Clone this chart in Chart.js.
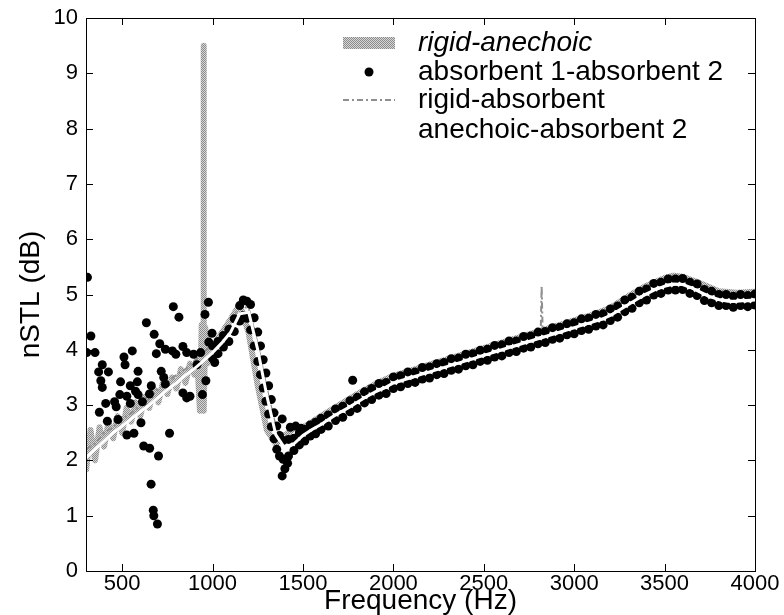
<!DOCTYPE html>
<html>
<head>
<meta charset="utf-8">
<script src="https://cdn.jsdelivr.net/npm/chart.js@4.4.0/dist/chart.umd.min.js"></script>
<style>
  body { margin: 0; background: #fff; }
</style>
</head>
<body>
<canvas id="myChart" width="784" height="615"></canvas>
<script>
// axis ticks
const xTicks = [500, 1000, 1500, 2000, 2500, 3000, 3500, 4000];
const yTicks = [0, 1, 2, 3, 4, 5, 6, 7, 8, 9, 10];

// common 50 Hz grid for the smooth curves
const lineFreq = [300,350,400,450,500,550,600,650,700,750,800,850,900,950,1000,
  1050,1100,1150,1200,1250,1300,1350,1400,1450,1500,1550,1600,1650,1700,1750,1800,1850,1900,1950,2000,
  2050,2100,2150,2200,2250,2300,2350,2400,2450,2500,2550,2600,2650,2700,2750,2800,2850,2900,2950,3000,
  3050,3100,3150,3200,3250,3300,3350,3400,3450,3500,3550,3600,3650,3700,3750,3800,3850,3900,3950,4000];

// anechoic-absorbent 2 (white line)
const anechoicAbs2 = [2.05,2.2,2.35,2.5,2.62,2.75,2.88,3.0,3.14,3.28,3.4,3.54,3.66,3.8,3.95,
  4.12,4.32,4.65,4.68,4.0,3.17,2.46,2.22,2.3,2.45,2.56,2.65,2.76,2.86,2.95,3.05,3.15,3.24,3.31,3.4,
  3.45,3.5,3.55,3.6,3.65,3.7,3.75,3.8,3.85,3.9,3.95,4.0,4.05,4.1,4.15,4.2,4.25,4.3,4.35,4.4,
  4.45,4.5,4.55,4.62,4.72,4.82,4.92,5.01,5.09,5.15,5.19,5.18,5.12,5.04,4.96,4.91,4.88,4.88,4.89,4.9];

// rigid-absorbent (dotted grey)
const rigidAbs = [2.2,2.3,2.5,2.6,2.75,2.85,3.0,3.1,3.3,3.4,3.55,3.65,3.8,3.95,4.1,
  4.25,4.45,4.8,4.75,4.1,3.3,2.6,2.4,2.45,2.6,2.7,2.8,2.9,3.0,3.08,3.18,3.28,3.36,3.43,3.52,
  3.57,3.62,3.67,3.72,3.77,3.82,3.87,3.92,3.97,4.02,4.07,4.12,4.17,4.22,4.27,4.32,4.37,4.42,4.47,4.52,
  4.57,4.62,4.67,4.74,4.84,4.94,5.04,5.13,5.21,5.27,5.31,5.3,5.24,5.16,5.08,5.03,5.0,5.0,5.01,5.02];
const rigidAbsSpikeFreq = [2815, 2820, 2825];
const rigidAbsSpikeVals = [4.35, 5.15, 4.4];

// rigid-anechoic (thick grey)
const rigidAnFreq = [300,325,350,375,400,425,450,475,500,525,550,575,600,625,650,675,700,725,750,775,
  800,825,850,875,900,915,930,940,948,950,952,960,970,985,1000,1050,1100,1150,1200,1250,1300,1350,
  1400,1450,1500,1550,1600,1650,1700,1750,1800,1900,2000,2100,2200,2300,2400,2500,2600,2700,2800,
  2900,3000,3100,3200,3300,3400,3500,3550,3600,3700,3800,3900,4000];
const rigidAnVals = [1.8,2.55,2.0,2.6,2.25,2.7,2.4,2.8,2.5,2.95,2.7,3.05,2.8,3.15,2.95,3.3,3.05,3.4,3.2,3.5,
  3.3,3.65,3.4,3.75,3.55,3.85,2.9,4.45,2.9,9.5,2.95,4.4,3.75,4.15,4.05,4.3,4.55,4.82,4.3,3.35,2.55,2.3,
  2.45,2.58,2.6,2.7,2.8,2.9,3.0,3.1,3.2,3.38,3.53,3.63,3.73,3.83,3.93,4.03,4.13,4.23,4.33,
  4.43,4.53,4.63,4.76,4.97,5.16,5.3,5.34,5.32,5.2,5.06,5.03,5.05];

// absorbent 1-absorbent 2 (black dots): scattered low-frequency points
const dotLowFreq = [308,783,814,977,958,634,327,677,304,350,708,556,510,689,739,778,797,836,857,895,
  934,914,997,979,390,370,516,424,588,382,390,716,730,491,545,584,739,574,588,661,651,526,487,458,409,
  545,612,467,374,963,944,1012,875,836,857,418,477,526,565,604,762,619,652,701,660,672,675,695];
const dotLowVals = [5.31,4.78,4.59,4.86,4.64,4.49,4.25,4.28,3.95,3.95,4.11,3.98,3.87,3.93,4.01,3.98,3.92,4.06,3.95,3.92,
  3.95,3.73,4.3,4.14,3.73,3.6,3.73,3.6,3.61,3.44,3.32,3.61,3.5,3.42,3.35,3.42,3.38,3.25,3.19,3.35,3.2,3.16,3.19,3.06,3.03,
  3.03,3.06,2.97,2.87,3.44,3.19,3.77,3.16,3.22,3.13,2.71,2.74,2.46,2.49,2.68,2.49,2.26,2.22,2.08,1.57,1.1,1.0,0.85];

// dots from 1000 Hz upward: upper and lower edges of the band
const bandFreq = [1000,1030,1060,1090,1120,1150,1170,1190,1210,1230,1250,1265,1280,1295,1310,1325,1340,1355,1370,1390,
  1420,1450,1480,1510,1540,1570,1600,1640,1680,1720,1760,1800,1840,1880,1920,1960,2000,2040,2080,2120,2160,2200,
  2240,2280,2320,2360,2400,2440,2480,2520,2560,2600,2640,2680,2720,2760,2800,2840,2880,2920,2960,3000,3040,3080,
  3120,3160,3200,3240,3280,3320,3360,3400,3440,3480,3520,3560,3600,3640,3680,3720,3760,3800,3840,3880,3920,3960,4000];
const bandUpper = [4.07,4.15,4.26,4.37,4.56,4.8,4.9,4.88,4.82,4.58,4.32,4.07,3.82,3.58,3.35,3.1,2.86,2.62,2.45,2.36,
  2.38,2.4,2.5,2.56,2.64,2.69,2.76,2.82,2.93,2.98,3.08,3.14,3.24,3.3,3.39,3.41,3.51,3.53,3.6,3.6,3.68,3.69,
  3.75,3.77,3.84,3.85,3.92,3.93,3.99,4.01,4.08,4.09,4.16,4.16,4.24,4.25,4.32,4.33,4.4,4.41,4.47,4.49,4.56,4.57,
  4.64,4.65,4.74,4.79,4.9,4.95,5.06,5.1,5.2,5.22,5.28,5.28,5.29,5.22,5.19,5.09,5.06,5.0,5.0,4.97,5.0,4.98,5.01];
const bandLower = [3.84,3.93,4.05,4.15,4.33,4.52,4.62,4.57,4.36,4.07,3.79,3.55,3.31,3.07,2.84,2.61,2.39,2.2,2.08,2.02,
  2.08,2.18,2.28,2.35,2.44,2.48,2.56,2.62,2.72,2.78,2.88,2.94,3.04,3.1,3.18,3.21,3.3,3.33,3.39,3.41,3.47,3.49,
  3.55,3.57,3.63,3.65,3.71,3.73,3.79,3.81,3.87,3.89,3.95,3.97,4.03,4.05,4.11,4.13,4.19,4.21,4.27,4.29,4.35,4.37,
  4.43,4.45,4.53,4.59,4.69,4.75,4.85,4.9,4.99,5.02,5.08,5.08,5.09,5.02,4.98,4.89,4.85,4.8,4.8,4.77,4.8,4.78,4.81];

// extra dots around the dip and an outlier
const dotExtraFreq = [1385, 1400, 1415, 1385, 1430, 1460, 1490, 1775];
const dotExtraVals = [1.72, 1.85, 1.95, 2.75, 2.6, 2.62, 2.58, 3.45];

const pts = (xs, ys) => xs.map((x, i) => ({ x: x, y: ys[i] }));

const canvas = document.getElementById('myChart');
const ctx = canvas.getContext('2d');

// halftone-like grey for the rigid-anechoic curve
const pc = document.createElement('canvas');
pc.width = 2; pc.height = 2;
const pctx = pc.getContext('2d');
pctx.fillStyle = '#d6d6d6'; pctx.fillRect(0, 0, 2, 2);
pctx.fillStyle = '#8c8c8c'; pctx.fillRect(0, 0, 1, 1); pctx.fillRect(1, 1, 1, 1);
const grayPattern = ctx.createPattern(pc, 'repeat');

const dashGray = '#8e8e8e';
const dashPattern = [6, 3, 2, 3];

Chart.defaults.font.family = '"Liberation Sans", Arial, sans-serif';
Chart.defaults.color = '#000';

// axes box with inward ticks on all four sides, plus the legend
const axesBox = {
  id: 'axesBox',
  afterDatasetsDraw(chart) {
    const { ctx, chartArea: a, scales: { x, y } } = chart;
    ctx.save();
    ctx.strokeStyle = '#000';
    ctx.lineWidth = 1;
    ctx.strokeRect(Math.round(a.left) + 0.5, Math.round(a.top) + 0.5, Math.round(a.right - a.left), Math.round(a.bottom - a.top));
    ctx.beginPath();
    xTicks.forEach(v => {
      const px = Math.round(x.getPixelForValue(v)) + 0.5;
      ctx.moveTo(px, a.bottom); ctx.lineTo(px, a.bottom - 7);
      ctx.moveTo(px, a.top); ctx.lineTo(px, a.top + 7);
    });
    yTicks.forEach(v => {
      const py = Math.round(y.getPixelForValue(v)) + 0.5;
      ctx.moveTo(a.left, py); ctx.lineTo(a.left + 7, py);
      ctx.moveTo(a.right, py); ctx.lineTo(a.right - 7, py);
    });
    ctx.stroke();

    // legend (no frame)
    const lx0 = 343, lx1 = 395, tx = 418;
    const rows = [43, 72, 100, 130];
    ctx.fillStyle = grayPattern;
    ctx.fillRect(lx0, rows[0] - 6, lx1 - lx0, 12);
    ctx.fillStyle = '#000';
    ctx.beginPath(); ctx.arc((lx0 + lx1) / 2, rows[1], 4.5, 0, Math.PI * 2); ctx.fill();
    ctx.strokeStyle = dashGray; ctx.lineWidth = 2; ctx.setLineDash(dashPattern);
    ctx.beginPath(); ctx.moveTo(lx0, rows[2]); ctx.lineTo(lx1, rows[2]); ctx.stroke();
    ctx.setLineDash([]);
    ctx.textBaseline = 'middle';
    ctx.fillStyle = '#000';
    ctx.font = 'italic 28px "Liberation Sans", Arial, sans-serif';
    ctx.fillText('rigid-anechoic', tx, rows[0]);
    ctx.font = '28px "Liberation Sans", Arial, sans-serif';
    ctx.fillText('absorbent 1-absorbent 2', tx, rows[1]);
    ctx.fillText('rigid-absorbent', tx, rows[2]);
    ctx.fillText('anechoic-absorbent 2', tx, rows[3]);
    ctx.restore();
  }
};

const rigidAbsPts = pts(lineFreq, rigidAbs).concat(pts(rigidAbsSpikeFreq, rigidAbsSpikeVals)).sort((p, q) => p.x - q.x);
const dotPts = pts(dotLowFreq, dotLowVals)
  .concat(pts(bandFreq, bandUpper))
  .concat(pts(bandFreq, bandLower))
  .concat(pts(dotExtraFreq, dotExtraVals));

new Chart(ctx, {
  type: 'scatter',
  data: {
    datasets: [
      {
        label: 'rigid-anechoic',
        data: pts(rigidAnFreq, rigidAnVals),
        showLine: true,
        borderColor: grayPattern,
        borderWidth: 6,
        borderJoinStyle: 'round',
        pointRadius: 0,
        order: 4
      },
      {
        label: 'rigid-absorbent',
        data: rigidAbsPts,
        showLine: true,
        borderColor: dashGray,
        borderWidth: 2,
        borderDash: dashPattern,
        pointRadius: 0,
        order: 3
      },
      {
        label: 'absorbent 1-absorbent 2',
        data: dotPts,
        showLine: false,
        pointRadius: 4.5,
        pointBackgroundColor: '#000',
        pointBorderWidth: 0,
        order: 2
      },
      {
        label: 'anechoic-absorbent 2',
        data: pts(lineFreq, anechoicAbs2),
        showLine: true,
        borderColor: '#fff',
        borderWidth: 3,
        pointRadius: 0,
        order: 0
      }
    ]
  },
  options: {
    responsive: false,
    animation: false,
    layout: { padding: { top: 18, right: 29, left: 0, bottom: 0 } },
    plugins: { legend: { display: false }, tooltip: { enabled: false } },
    scales: {
      x: {
        type: 'linear',
        min: 300,
        max: 4000,
        afterBuildTicks: s => { s.ticks = xTicks.map(v => ({ value: v })); },
        afterFit: s => { s.height = 44; },
        grid: { display: false },
        border: { display: false },
        ticks: { color: '#000', font: { size: 22 }, padding: -8, maxRotation: 0, autoSkip: false, callback: v => String(v) },
        title: { display: true, text: 'Frequency (Hz)', color: '#000', font: { size: 28 }, padding: { top: 0, bottom: -3 } }
      },
      y: {
        min: 0,
        max: 10,
        afterBuildTicks: s => { s.ticks = yTicks.map(v => ({ value: v })); },
        afterFit: s => { s.width = 86; },
        grid: { display: false },
        border: { display: false },
        ticks: { color: '#000', font: { size: 22 }, padding: 0, autoSkip: false, callback: v => String(v) },
        title: { display: true, text: 'nSTL (dB)', color: '#000', font: { size: 28 }, padding: { top: 14, bottom: 0 } }
      }
    }
  },
  plugins: [axesBox]
});
</script>
</body>
</html>
